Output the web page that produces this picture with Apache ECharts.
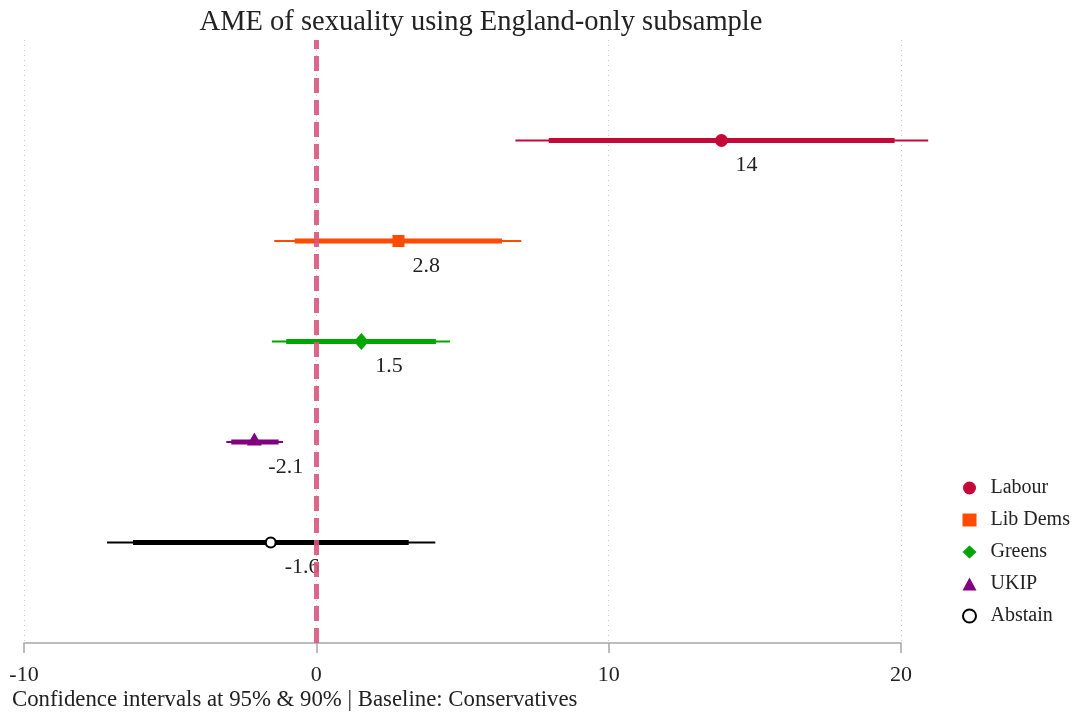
<!DOCTYPE html>
<html>
<head>
<meta charset="utf-8">
<script src="https://cdn.jsdelivr.net/npm/echarts@6/dist/echarts.min.js"></script>
<style>html,body{margin:0;padding:0;background:#fff}#c{width:1087px;height:719px}</style>
</head>
<body>
<div id="c"></div>
<script>
// ---- data ----
var parties   = ['Labour', 'Lib Dems', 'Greens', 'UKIP', 'Abstain'];
var rowPos    = [5, 4, 3, 2, 1];
var estimates = [13.86, 2.81, 1.54, -2.12, -1.56];
var pointLabels = ['14', '2.8', '1.5', '-2.1', '-1.6'];
var lo95 = [6.81, -1.44, -1.52, -3.08, -7.16];
var hi95 = [20.93, 7.01, 4.57, -1.14, 4.07];
var lo90 = [7.95, -0.74, -1.03, -2.91, -6.27];
var hi90 = [19.78, 6.35, 4.09, -1.29, 3.16];
var xTicks = [-10, 0, 10, 20];
var baselineX = 0;

// ---- styles ----
var colors  = ['#c4083a', '#ff4b00', '#00a600', '#800080', '#000000'];
var symbols = ['circle', 'rect', 'diamond', 'triangle', 'circle'];
var symSizes = [13, 12, [15, 17], [15, 13], 10];
var FONT = '"Liberation Serif", "DejaVu Serif", serif';

var chart = echarts.init(document.getElementById('c'), null, {renderer: 'canvas'});

var ciData = parties.map(function (p, i) {
  return [rowPos[i], lo95[i], hi95[i], lo90[i], hi90[i], i];
});

var series = [{
  type: 'custom',
  clip: false,
  z: 2,
  data: ciData,
  encode: {x: [1, 2], y: 0},
  renderItem: function (params, api) {
    var y = api.value(0);
    var a = api.coord([api.value(1), y]);
    var b = api.coord([api.value(2), y]);
    var c = api.coord([api.value(3), y]);
    var d = api.coord([api.value(4), y]);
    var col = colors[api.value(5)];
    return {
      type: 'group',
      children: [
        {type: 'line', shape: {x1: a[0], y1: a[1], x2: b[0], y2: b[1]}, style: {stroke: col, lineWidth: 2}},
        {type: 'line', shape: {x1: c[0], y1: c[1], x2: d[0], y2: d[1]}, style: {stroke: col, lineWidth: 5}}
      ]
    };
  }
}];

parties.forEach(function (p, i) {
  var hollow = (p === 'Abstain');
  series.push({
    type: 'scatter',
    name: p,
    z: 3,
    symbol: symbols[i],
    symbolSize: symSizes[i],
    symbolOffset: p === 'UKIP' ? [0, -3] : [0, 0],
    itemStyle: hollow ? {color: '#ffffff', borderColor: colors[i], borderWidth: 2.2, opacity: 1}
                      : {color: colors[i], opacity: 1},
    data: [[estimates[i], rowPos[i]]],
    label: {
      show: true,
      formatter: pointLabels[i],
      position: 'inside',
      align: 'left',
      verticalAlign: 'middle',
      offset: [14, p === 'UKIP' ? 28 : 25],
      fontFamily: FONT,
      fontSize: 22,
      color: '#222'
    },
    emphasis: {disabled: true}
  });
});

// baseline dashed line
series.push({
  type: 'scatter',
  data: [],
  z: 4,
  markLine: {
    silent: true,
    symbol: ['none', 'none'],
    label: {show: false},
    animation: false,
    data: [{xAxis: baselineX, lineStyle: {color: '#d9577e', opacity: 0.9, width: 5, type: [15, 7]}}]
  }
});

chart.setOption({
  animation: false,
  backgroundColor: '#ffffff',
  title: {
    text: 'AME of sexuality using England-only subsample',
    left: 476,
    textAlign: 'center',
    top: 3,
    textStyle: {fontFamily: FONT, fontSize: 28.5, fontWeight: 'normal', color: '#222'}
  },
  legend: {
    orient: 'vertical',
    left: 957,
    top: 473,
    itemWidth: 14,
    itemHeight: 13,
    itemGap: 12,
    data: parties.map(function (p, i) { return {name: p}; }),
    textStyle: {fontFamily: FONT, fontSize: 20, color: '#222', padding: [0, 0, 0, 9]}
  },
  grid: {left: 24, right: 186, top: 40, bottom: 76, containLabel: false},
  xAxis: {
    type: 'value',
    min: xTicks[0],
    max: xTicks[xTicks.length - 1],
    interval: 10,
    axisLine: {show: true, lineStyle: {color: '#a6a6a6', width: 1.5}},
    axisTick: {show: true, length: 10, lineStyle: {color: '#a6a6a6', width: 1.5}},
    axisLabel: {fontFamily: FONT, fontSize: 22, color: '#222', margin: 21},
    splitLine: {show: true, lineStyle: {color: '#c8c8c8', width: 1, type: [1, 4]}}
  },
  yAxis: {
    type: 'value',
    min: 0,
    max: 6,
    show: false
  },
  graphic: [{
    type: 'text',
    left: 12,
    top: 689,
    style: {
      text: 'Confidence intervals at 95% & 90% | Baseline: Conservatives',
      font: '22.8px ' + FONT,
      fill: '#222'
    }
  }],
  series: series
});
</script>
</body>
</html>
